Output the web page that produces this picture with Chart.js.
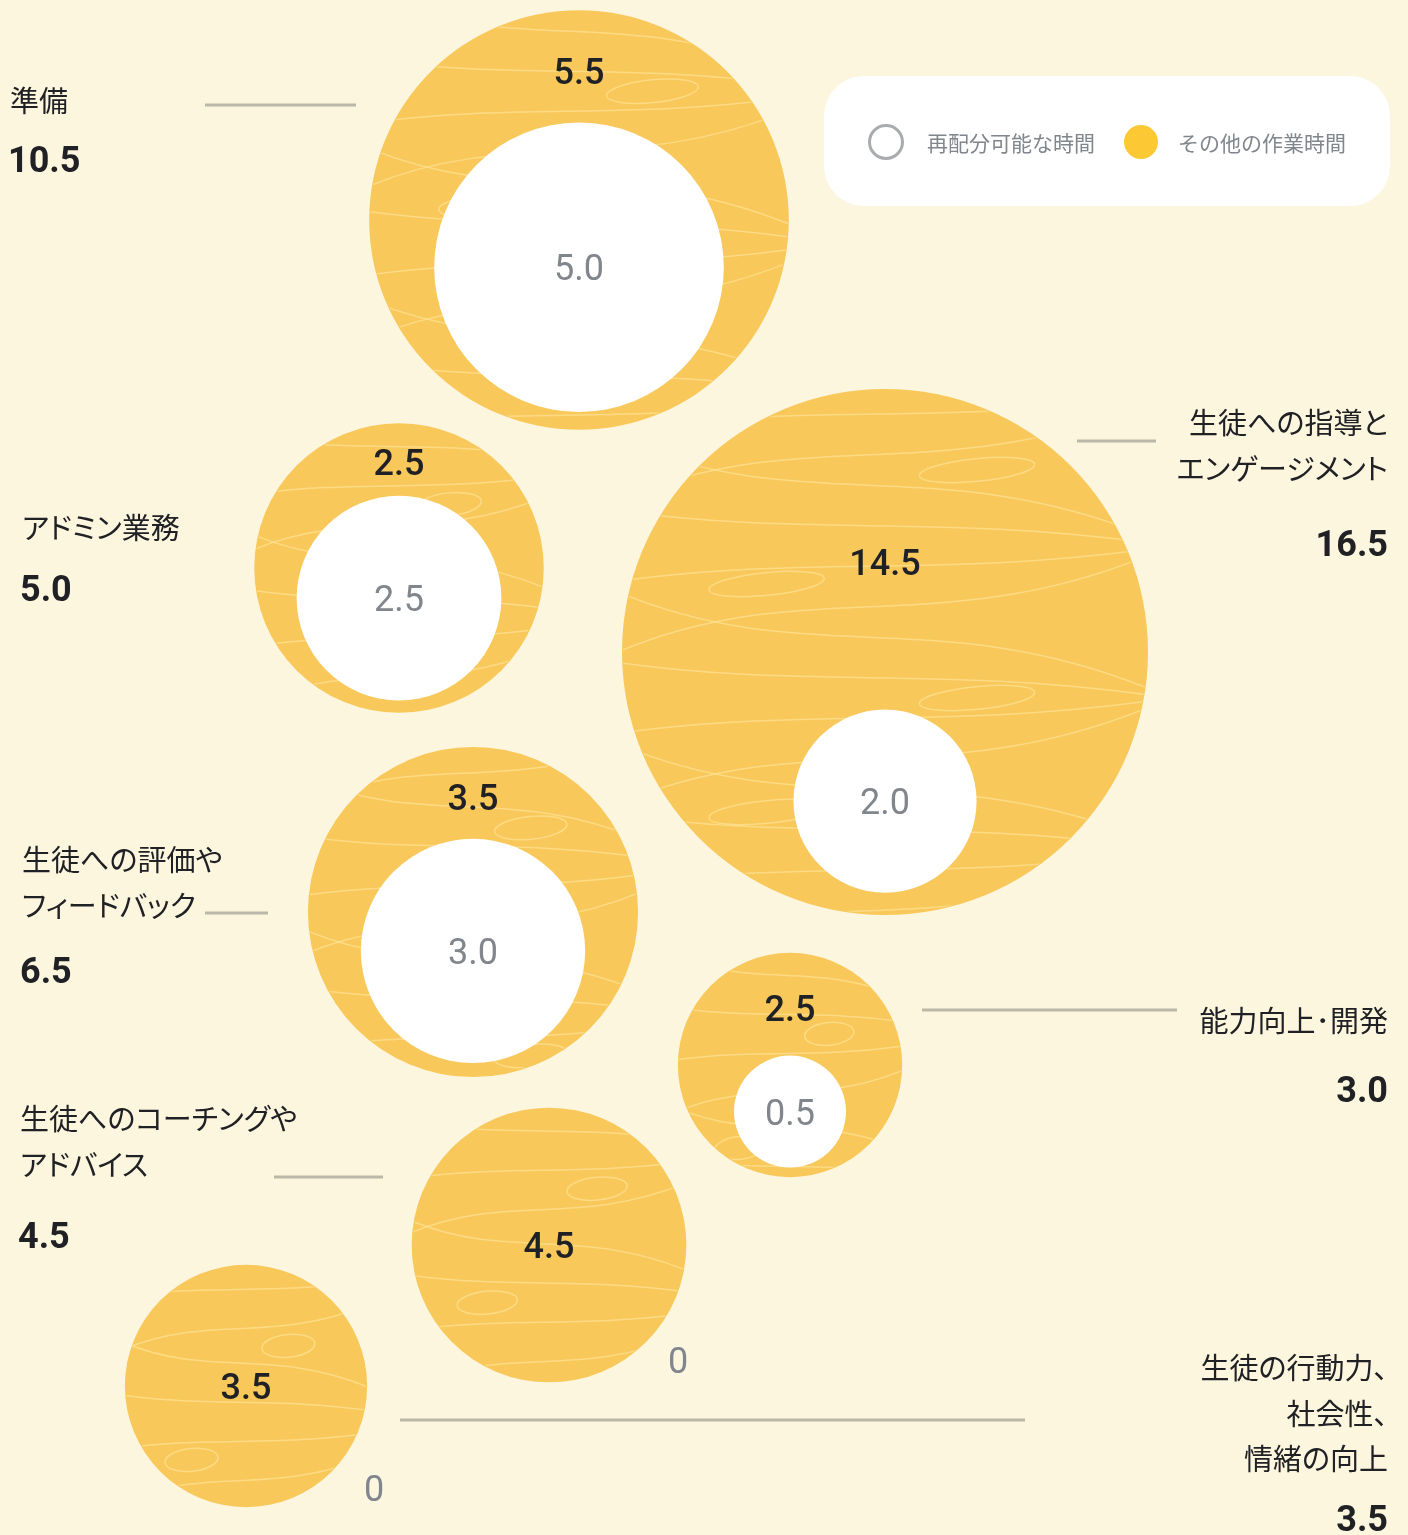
<!DOCTYPE html>
<html lang="ja">
<head>
<meta charset="utf-8">
<title>時間の使い方</title>
<script src="https://cdn.jsdelivr.net/npm/chart.js@4.4.1/dist/chart.umd.min.js"></script>
<style>
  html, body { margin: 0; padding: 0; background: #FDF6DF; }
  #wrap { width: 1408px; height: 1535px; position: relative; }
  #wrap canvas { position: absolute; left: 0; top: 0; }
  .cat {
    position: absolute;
    font-family: "Noto Sans CJK JP", "Noto Sans", sans-serif;
    font-size: 29px;
    line-height: 45.5px;
    color: #202124;
    font-feature-settings: "palt";
    white-space: nowrap;
  }
  .cat.right { text-align: right; }
</style>
</head>
<body>
<div id="wrap"><canvas id="chart" width="1408" height="1535"></canvas></div>
<script>
// data (hours per week)
var categories = [
  ["準備"],
  ["アドミン業務"],
  ["生徒への指導と", "エンゲージメント"],
  ["生徒への評価や", "フィードバック"],
  ["能力向上･開発"],
  ["生徒へのコーチングや", "アドバイス"],
  ["生徒の行動力、", "社会性、", "情緒の向上"]
];
var otherHours   = [5.5, 2.5, 14.5, 3.5, 2.5, 4.5, 3.5];
var reallocHours = [5.0, 2.5, 2.0, 3.0, 0.5, 0, 0];
var totalHours   = [10.5, 5.0, 16.5, 6.5, 3.0, 4.5, 3.5];
var legendLabels = ["再配分可能な時間", "その他の作業時間"];

// layout (scale units = px)
var bubbleX = [579, 399, 885, 473, 790, 549, 246];
var bubbleY = [220, 568, 652, 912, 1065, 1245, 1386];
var pxPerRootHour = 64.75;
var minInnerR = 56;
// label placement: side, x, y of first name line, y of total
var labelSide  = ["left", "left", "right", "left", "right", "left", "right"];
var labelX     = [10, 22, 1388, 22, 1388, 20, 1388];
var labelTopY  = [100, 527, 422, 859, 1020, 1118, 1367];
var totalY     = [159, 588, 543, 970, 1089, 1235, 1518];
var leaders = [[205, 356, 105], null, [1077, 1156, 441], [205, 268, 913], [922, 1177, 1010], [274, 383, 1177], [400, 1025, 1420]];
var zeroPos = [null, null, null, null, null, [678, 1360], [374, 1488]];

var YELLOW = "#F9C85B";
var DARK = "#202124";
var GREY = "#80868B";
var LINE = "#BCB8A7";
var JP = '"Noto Sans CJK JP", "Noto Sans", sans-serif';
var NUM = 'Roboto, "Noto Sans", sans-serif';

function outerR(i) { return pxPerRootHour * Math.sqrt(totalHours[i]); }
function innerR(i) { return Math.max(pxPerRootHour * Math.sqrt(reallocHours[i]), minInnerR); }

var outerData = bubbleX.map(function (x, i) { return { x: x, y: bubbleY[i] }; });
var innerIdx = [];
var innerData = [];
reallocHours.forEach(function (v, i) {
  if (v > 0) {
    innerIdx.push(i);
    var R = outerR(i), r = innerR(i);
    innerData.push({ x: bubbleX[i], y: bubbleY[i] + (R - r) - 0.085 * R });
  }
});

// category names as text over the canvas (proportional kana)
var wrap = document.getElementById("wrap");
categories.forEach(function (lines, i) {
  var d = document.createElement("div");
  d.className = "cat " + labelSide[i];
  d.style.top = (labelTopY[i] - 22.75) + "px";
  if (labelSide[i] === "left") d.style.left = labelX[i] + "px";
  else d.style.right = (1408 - labelX[i]) + "px";
  d.innerHTML = lines.join("<br>");
  wrap.appendChild(d);
});

// light contour lines inside the yellow circles
var texture = {
  id: "texture",
  afterDatasetDraw: function (chart, args) {
    if (args.index !== 0) return;
    var ctx = chart.ctx;
    args.meta.data.forEach(function (el, i) {
      var R = el.options.radius;
      ctx.save();
      ctx.beginPath();
      ctx.arc(el.x, el.y, R - 1, 0, Math.PI * 2);
      ctx.clip();
      ctx.strokeStyle = "rgba(255, 232, 160, 0.6)";
      ctx.lineWidth = 1.5;
      var step = 38, k = 0;
      for (var dy = -R + 24; dy < R; dy += step, k++) {
        var t = ((k + i) % 4 - 1.5) * 0.12 * R;
        ctx.beginPath();
        ctx.moveTo(el.x - R, el.y + dy + t);
        ctx.bezierCurveTo(el.x - R * 0.3, el.y + dy - t * 0.6,
                          el.x + R * 0.2, el.y + dy + t * 0.8,
                          el.x + R, el.y + dy - t);
        ctx.stroke();
        if (k % 3 === 1) {
          ctx.beginPath();
          var ex = el.x + ((k % 2) ? 0.35 : -0.45) * R;
          ctx.ellipse(ex, el.y + dy + step / 2, R * 0.22, step * 0.3, -0.1, 0, Math.PI * 2);
          ctx.stroke();
        }
      }
      ctx.restore();
    });
  }
};

var labels = {
  id: "labels",
  afterDraw: function (chart) {
    var ctx = chart.ctx;
    var outerMeta = chart.getDatasetMeta(0);
    var innerMeta = chart.getDatasetMeta(1);
    ctx.save();

    // values inside bubbles
    outerMeta.data.forEach(function (el, i) {
      var j = innerIdx.indexOf(i);
      ctx.textAlign = "center";
      ctx.textBaseline = "alphabetic";
      ctx.fillStyle = DARK;
      ctx.font = "500 36px " + NUM;
      if (j < 0) {
        ctx.fillText(otherHours[i].toFixed(1), el.x, el.y + 13);
      } else {
        var inEl = innerMeta.data[j];
        var topOuter = el.y - el.options.radius;
        var topInner = inEl.y - inEl.options.radius;
        ctx.fillText(otherHours[i].toFixed(1), el.x, topOuter + 0.54 * (topInner - topOuter) + 13);
        ctx.fillStyle = GREY;
        ctx.font = "400 36px " + NUM;
        ctx.fillText(reallocHours[i].toFixed(1), inEl.x, inEl.y + 13);
      }
      if (zeroPos[i]) {
        ctx.fillStyle = GREY;
        ctx.font = "400 36px " + NUM;
        ctx.fillText("0", zeroPos[i][0], zeroPos[i][1] + 13);
      }
    });

    // leader lines
    ctx.strokeStyle = LINE;
    ctx.lineWidth = 3;
    leaders.forEach(function (l) {
      if (!l) return;
      ctx.beginPath();
      ctx.moveTo(l[0], l[2]);
      ctx.lineTo(l[1], l[2]);
      ctx.stroke();
    });

    // totals
    categories.forEach(function (lines, i) {
      ctx.textAlign = labelSide[i] === "left" ? "left" : "right";
      ctx.fillStyle = DARK;
      ctx.textBaseline = "alphabetic";
      ctx.font = "700 36px " + NUM;
      ctx.fillText(totalHours[i].toFixed(1), labelX[i] - (labelSide[i] === "left" ? 2 : 0), totalY[i] + 13);
    });

    // legend box
    ctx.fillStyle = "#FFFFFF";
    ctx.beginPath();
    ctx.roundRect(824, 76, 566, 130, 40);
    ctx.fill();
    ctx.beginPath();
    ctx.arc(886, 142, 16.5, 0, Math.PI * 2);
    ctx.strokeStyle = "#A9ACAF";
    ctx.lineWidth = 3;
    ctx.stroke();
    ctx.beginPath();
    ctx.arc(1141, 142, 17, 0, Math.PI * 2);
    ctx.fillStyle = "#FCC934";
    ctx.fill();
    ctx.fillStyle = GREY;
    ctx.font = "400 21px " + JP;
    ctx.textAlign = "left";
    ctx.textBaseline = "middle";
    ctx.fillText(legendLabels[0], 927, 143);
    ctx.fillText(legendLabels[1], 1178, 143);

    ctx.restore();
  }
};

new Chart("chart", {
  type: "bubble",
  data: {
    datasets: [{
      label: legendLabels[1],
      data: outerData,
      backgroundColor: YELLOW,
      borderWidth: 0,
      clip: false,
      radius: function (c) { return outerR(c.dataIndex); },
      order: 2
    }, {
      label: legendLabels[0],
      data: innerData,
      backgroundColor: "#FFFFFF",
      borderWidth: 0,
      clip: false,
      radius: function (c) { return innerR(innerIdx[c.dataIndex]); },
      order: 1
    }]
  },
  options: {
    responsive: false,
    animation: false,
    events: [],
    layout: { padding: 0, autoPadding: false },
    plugins: { legend: { display: false }, tooltip: { enabled: false } },
    scales: {
      x: { type: "linear", min: 0, max: 1408, display: false },
      y: { type: "linear", min: 0, max: 1535, reverse: true, display: false }
    }
  },
  plugins: [texture, labels]
});
</script>
</body>
</html>
